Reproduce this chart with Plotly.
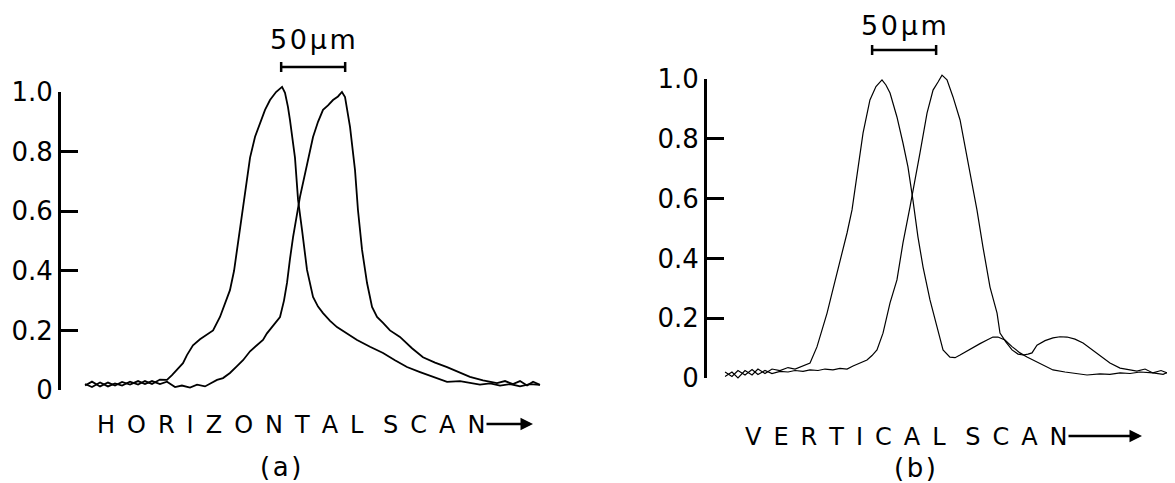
import plotly.graph_objects as go

# ---------------- data (scan position in micrometres, normalized intensity) -------------
# Panel (a): horizontal scan, two beam positions
a1_x = [18.8, 24.2, 30.5, 36.7, 42.2, 47.7, 53.9, 60.2, 65.6, 71.1, 77.3, 82.8, 86.7, 90.6,
        95.3, 98.4, 103.1, 108.6, 114.1, 118.8, 124.2, 128.1, 132.0, 135.2, 137.5, 142.2,
        147.7, 151.6, 155.5, 159.4, 163.3, 168.0, 172.7, 175.0, 177.3, 178.9, 182.8, 185.2,
        188.3, 192.2, 196.9, 200.8, 204.7, 210.2, 215.6, 223.4, 231.3, 241.4, 251.6, 260.9,
        270.3, 280.5, 290.6, 301.6, 311.7, 319.5, 327.3, 335.2, 343.0, 350.8, 358.6, 366.4,
        374.2]
a1_y = [0.020, 0.010, 0.025, 0.012, 0.022, 0.015, 0.028, 0.018, 0.030, 0.020, 0.035, 0.034,
        0.050, 0.067, 0.090, 0.117, 0.150, 0.170, 0.185, 0.200, 0.245, 0.290, 0.335, 0.400,
        0.470, 0.600, 0.780, 0.850, 0.895, 0.940, 0.973, 1.000, 1.017, 0.997, 0.950, 0.906,
        0.780, 0.638, 0.537, 0.403, 0.312, 0.280, 0.258, 0.232, 0.211, 0.190, 0.168, 0.145,
        0.124, 0.100, 0.077, 0.060, 0.045, 0.027, 0.030, 0.023, 0.018, 0.022, 0.015, 0.020,
        0.012, 0.020, 0.017]

a2_x = [18.8, 24.2, 30.5, 36.7, 42.2, 47.7, 53.9, 60.2, 65.6, 71.1, 77.3, 82.8, 89.1, 94.5,
        100.8, 106.3, 112.5, 116.4, 121.9, 126.6, 132.0, 137.5, 142.2, 147.7, 153.1, 157.8,
        160.9, 165.6, 171.1, 174.2, 176.6, 178.9, 181.3, 186.7, 192.2, 196.9, 200.8, 204.7,
        208.6, 212.5, 216.4, 219.5, 221.9, 225.8, 229.7, 232.0, 235.2, 239.1, 243.0, 246.9,
        251.6, 257.0, 264.8, 274.2, 282.8, 292.2, 301.6, 310.2, 319.5, 329.7, 340.6, 346.9,
        353.1, 358.6, 364.1, 368.8, 374.2]
a2_y = [0.015, 0.028, 0.012, 0.025, 0.015, 0.027, 0.018, 0.030, 0.020, 0.030, 0.020, 0.028,
        0.010, 0.015, 0.008, 0.018, 0.012, 0.022, 0.034, 0.040, 0.057, 0.080, 0.100, 0.130,
        0.150, 0.168, 0.190, 0.215, 0.245, 0.300, 0.360, 0.440, 0.513, 0.648, 0.762, 0.849,
        0.900, 0.940, 0.955, 0.973, 0.985, 1.000, 0.983, 0.883, 0.738, 0.604, 0.470, 0.359,
        0.279, 0.245, 0.225, 0.200, 0.178, 0.140, 0.110, 0.092, 0.077, 0.060, 0.044, 0.032,
        0.023, 0.030, 0.020, 0.030, 0.015, 0.028, 0.017]

# Panel (b): vertical scan, two beam positions
b1_x = [14.1, 19.5, 24.2, 29.7, 35.2, 39.8, 45.3, 50.8, 57.0, 63.3, 68.8, 72.7, 76.6, 80.5,
        85.9, 89.8, 93.8, 97.7, 101.6, 105.5, 109.4, 113.3, 117.2, 121.9, 127.3, 132.0,
        136.7, 139.8, 143.0, 148.4, 153.1, 157.0, 160.9, 164.8, 168.8, 174.2, 179.7, 184.4,
        189.8, 193.8, 197.7, 203.1, 207.8, 213.3, 218.8, 223.4, 227.3, 232.8, 238.3, 244.5,
        250.0, 254.7, 262.5, 270.3, 279.7, 289.1, 296.9, 307.0, 314.8, 322.7, 330.5, 338.3,
        348.4, 356.3, 364.1]
b1_y = [0.005, 0.020, 0.000, 0.025, 0.010, 0.030, 0.015, 0.030, 0.025, 0.035, 0.030, 0.037,
        0.042, 0.050, 0.104, 0.160, 0.217, 0.285, 0.351, 0.420, 0.485, 0.562, 0.686, 0.819,
        0.930, 0.975, 0.997, 0.980, 0.953, 0.873, 0.786, 0.706, 0.595, 0.472, 0.371, 0.261,
        0.171, 0.094, 0.070, 0.068, 0.077, 0.090, 0.104, 0.115, 0.127, 0.137, 0.137, 0.127,
        0.105, 0.084, 0.070, 0.060, 0.045, 0.027, 0.020, 0.015, 0.010, 0.014, 0.012, 0.017,
        0.015, 0.020, 0.017, 0.012, 0.027]

b2_x = [14.1, 19.5, 24.2, 29.7, 35.2, 39.8, 45.3, 50.8, 57.0, 63.3, 68.8, 75.0, 80.5, 86.7,
        92.2, 98.4, 103.9, 109.4, 114.1, 119.5, 125.0, 128.9, 132.8, 137.5, 143.0, 148.4,
        153.1, 158.6, 160.9, 166.4, 171.9, 176.6, 180.5, 183.6, 187.5, 192.2, 197.7, 201.6,
        205.5, 210.9, 215.6, 221.1, 226.6, 228.9, 233.6, 238.3, 243.0, 246.9, 250.8, 253.9,
        257.8, 264.1, 270.3, 275.8, 281.3, 287.5, 293.8, 299.2, 304.7, 309.4, 314.8, 322.7,
        328.9, 335.9, 342.2, 348.4, 354.7, 360.9, 364.1]
b2_y = [0.020, 0.005, 0.025, 0.010, 0.028, 0.012, 0.025, 0.015, 0.022, 0.020, 0.025, 0.022,
        0.027, 0.025, 0.030, 0.027, 0.032, 0.030, 0.040, 0.050, 0.060, 0.075, 0.094, 0.150,
        0.251, 0.328, 0.452, 0.572, 0.629, 0.753, 0.886, 0.963, 0.990, 1.013, 0.997, 0.940,
        0.863, 0.773, 0.696, 0.562, 0.438, 0.304, 0.217, 0.150, 0.120, 0.094, 0.080, 0.077,
        0.080, 0.084, 0.110, 0.125, 0.134, 0.138, 0.137, 0.130, 0.117, 0.100, 0.084, 0.070,
        0.050, 0.033, 0.028, 0.023, 0.030, 0.017, 0.025, 0.015, 0.030]

tick_vals = [0, 0.2, 0.4, 0.6, 0.8, 1.0]
tick_text = ["0", "0.2", "0.4", "0.6", "0.8", "1.0"]
scale_bar_um = 50
scale_bar_start_a = 172.0
scale_bar_start_b = 129.0
scale_label = "50\u00b5m"
xlabel_a = "HORIZONTAL SCAN"
xlabel_b = "VERTICAL SCAN"
panel_a = "(a)"
panel_b = "(b)"

# ---------------- layout helpers (page pixels -> paper fractions) ----------------
W, H = 1175, 483
OFF = 8               # page body margin of the html page
UM_PER_PX = 50 / 64   # 50 um scale bar is 64 px long


def px(x):
    return (x - OFF) / W


def py(y):
    return 1 - (y - OFF) / H


FONT = "DejaVu Sans"
INK = "black"
EN = "\u2002"
HAIR = "\u200a"


def spaced(text):
    # wide lettering: en-space between letters, extra en-space between words
    return (EN + " ").join(EN.join(w) for w in text.split(" "))


def hair_spaced(text):
    return HAIR.join(text)


fig = go.Figure()
for xs, ys in [(a1_x, a1_y), (a2_x, a2_y)]:
    fig.add_trace(go.Scatter(x=xs, y=ys, mode="lines", xaxis="x", yaxis="y",
                             line=dict(color=INK, width=1.8), showlegend=False,
                             hoverinfo="skip"))
for xs, ys in [(b1_x, b1_y), (b2_x, b2_y)]:
    fig.add_trace(go.Scatter(x=xs, y=ys, mode="lines", xaxis="x2", yaxis="y2",
                             line=dict(color=INK, width=1.2), showlegend=False,
                             hoverinfo="skip"))
# empty traces so the display-only value axes are drawn
fig.add_trace(go.Scatter(x=[], y=[], xaxis="x", yaxis="y3", showlegend=False))
fig.add_trace(go.Scatter(x=[], y=[], xaxis="x2", yaxis="y4", showlegend=False))

hidden = dict(visible=False, showgrid=False, zeroline=False, fixedrange=True,
              automargin=False)


def value_axis(y0px, y1px, anchor):
    return dict(domain=[py(y0px), py(y1px)], anchor=anchor, range=[0, 1], showline=True,
                linecolor=INK, linewidth=3, ticks="inside", ticklen=17, tickwidth=3,
                tickcolor=INK, tickvals=tick_vals, ticktext=tick_text,
                tickfont=dict(family=FONT, size=26, color=INK), automargin=False,
                showgrid=False, zeroline=False, fixedrange=True)


def data_yaxis(zero_px, one_px, anchor, lo=-0.03, hi=1.05):
    unit = zero_px - one_px
    return dict(domain=[py(zero_px - lo * unit), py(zero_px - hi * unit)],
                range=[lo, hi], anchor=anchor, **hidden)


# panel (a): value axis at x=61 px, 0 at y=390 px, 1.0 at y=92 px
# panel (b): value axis at x=707 px, 0 at y=378 px, 1.0 at y=79 px
AX_A, END_A = 61, 552
AX_B, END_B = 707, W + OFF
fig.update_layout(
    template="none",
    width=W, height=H,
    margin=dict(l=0, r=0, t=0, b=0, pad=0, autoexpand=False),
    paper_bgcolor="white", plot_bgcolor="rgba(0,0,0,0)",
    xaxis=dict(domain=[px(AX_A), px(END_A)], range=[0, (END_A - AX_A) * UM_PER_PX],
               anchor="y", **hidden),
    yaxis=data_yaxis(390, 92, "x"),
    xaxis2=dict(domain=[px(AX_B), min(1.0, px(END_B))], range=[0, (END_B - AX_B) * UM_PER_PX],
                anchor="y2", **hidden),
    yaxis2=data_yaxis(378, 79, "x2"),
    yaxis3=value_axis(390, 92, "x"),
    yaxis4=value_axis(378, 79, "x2"),
    showlegend=False,
)

# scale bars (50 um) with end caps
for xref, start, bar_px, txt_px in [("x", scale_bar_start_a, 67, 39),
                                    ("x2", scale_bar_start_b, 50, 26)]:
    end = start + scale_bar_um
    yb = py(bar_px)
    fig.add_shape(type="line", xref=xref, yref="paper", x0=start, x1=end, y0=yb, y1=yb,
                  line=dict(color=INK, width=2.5))
    for xe in (start, end):
        fig.add_shape(type="line", xref=xref, yref="paper", x0=xe, x1=xe,
                      y0=py(bar_px + 5), y1=py(bar_px - 5), line=dict(color=INK, width=2.5))
    fig.add_annotation(xref=xref, yref="paper", x=start + scale_bar_um / 2,
                       y=py(txt_px), text=hair_spaced(scale_label), showarrow=False,
                       xanchor="center", yanchor="middle", borderpad=0,
                       font=dict(family=FONT, size=27, color=INK))

# axis captions with arrows and panel letters
for txt, cx, cy, tip_x, alen, sub, sx, sy in [
    (xlabel_a, 291, 425, 533, 48, panel_a, 280, 467),
    (xlabel_b, 907, 437, 1142, 75, panel_b, 915, 468),
]:
    fig.add_annotation(xref="paper", yref="paper", x=px(cx), y=py(cy), text=spaced(txt),
                       showarrow=False, xanchor="center", yanchor="middle",
                       font=dict(family=FONT, size=24, color=INK))
    fig.add_annotation(xref="paper", yref="paper", x=px(tip_x), y=py(cy - 1), text="",
                       showarrow=True, ax=-alen, ay=0, arrowhead=2, arrowsize=1,
                       arrowwidth=2.5, arrowcolor=INK, standoff=0)
    fig.add_annotation(xref="paper", yref="paper", x=px(sx), y=py(sy), text=hair_spaced(sub),
                       showarrow=False, xanchor="center", yanchor="middle",
                       font=dict(family=FONT, size=26, color=INK))

fig.write_html("out.html")
